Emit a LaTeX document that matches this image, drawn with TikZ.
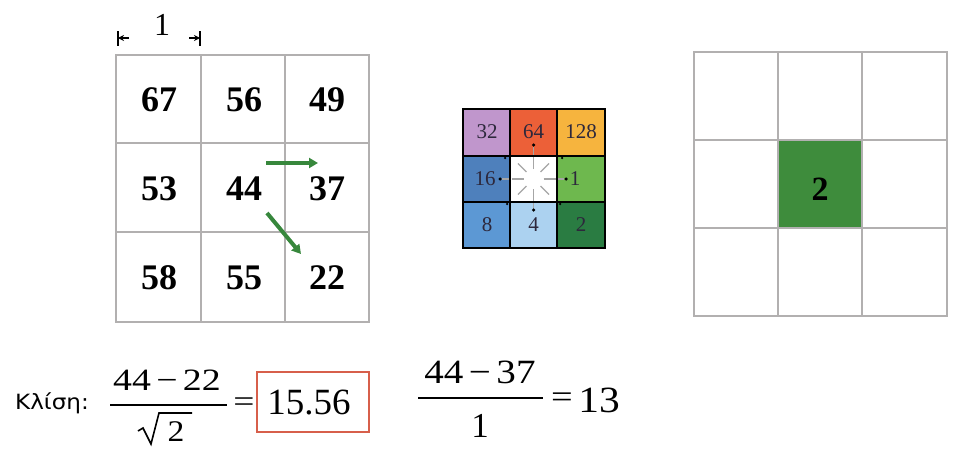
\documentclass[tikz,border=0pt]{standalone}
\usepackage{fontspec}
\usepackage{graphicx}
\setmainfont{Liberation Serif}
\newfontfamily\greekfont{DejaVu Sans}
\newfontfamily\eqfont{Liberation Serif}
\usetikzlibrary{arrows.meta,calc}
\definecolor{gridgray}{RGB}{178,176,176}
\definecolor{arrgreen}{RGB}{55,135,60}
\definecolor{cellgreen}{RGB}{62,140,60}
\definecolor{boxred}{RGB}{215,95,75}
\definecolor{cPurple}{RGB}{192,150,204}
\definecolor{cRed}{RGB}{236,96,56}
\definecolor{cOrange}{RGB}{246,180,62}
\definecolor{cBlue}{RGB}{78,128,188}
\definecolor{cLGreen}{RGB}{110,184,78}
\definecolor{cMBlue}{RGB}{92,152,212}
\definecolor{cLBlue}{RGB}{172,210,240}
\definecolor{cDGreen}{RGB}{42,124,66}
\definecolor{smalltext}{RGB}{45,40,60}
\newcommand{\mgap}{\hspace{0.14em}}
\tikzset{
  bignum/.style={inner sep=0pt,font=\fontsize{36}{40}\selectfont\bfseries},
  smallnum/.style={inner sep=0pt,text=smalltext,font=\eqfont\fontsize{21}{24}\selectfont},
  eqtext/.style={inner sep=0pt},
  greenarrow/.style={draw=arrgreen,line width=4pt,-{Triangle[length=9pt,width=10pt]}},
  dimarrow/.style={line width=1.3pt,-{Stealth[length=6pt,width=6pt]}},
  radial/.style={draw=gray!70,line width=1.2pt},
  dotmark/.style={circle,fill=black,inner sep=0pt,minimum size=3.5pt}
}
\begin{document}
\begin{tikzpicture}[x=1pt,y=-1pt]
\useasboundingbox (0,0) rectangle (967,450);
% ---------- left grid ----------
\draw[gridgray,line width=2.5pt] (116,55) rectangle (369,322);
\draw[gridgray,line width=2.5pt] (201,55) -- (201,322) (285,55) -- (285,322)
  (116,143) -- (369,143) (116,232) -- (369,232);
\node[bignum] (n67) at (159,100) {67};
\node[bignum] (n56) at (244,100) {56};
\node[bignum] (n49) at (327,100) {49};
\node[bignum] (n53) at (159,189) {53};
\node[bignum] (n44) at (244,189) {44};
\node[bignum] (n37) at (327,189) {37};
\node[bignum] (n58) at (159,278) {58};
\node[bignum] (n55) at (244,278) {55};
\node[bignum] (n22) at (327,278) {22};
% dimension
\node[inner sep=0pt,font=\eqfont\fontsize{32}{36}\selectfont] (dim) at (162,25) {1};
\coordinate (dl) at (118,38);
\coordinate (dr) at (200,38);
\draw[line width=1.3pt] (118,31) -- (118,46) (200,31) -- (200,46);
\draw[dimarrow] (129,38) -- (dl);
\draw[dimarrow] (189,38) -- (dr);
% green arrows
\coordinate (a1s) at (266,163);
\coordinate (a1e) at (318,163);
\coordinate (a2s) at (267,213);
\coordinate (a2e) at (301,254);
\draw[greenarrow] (a1s) -- (a1e);
\draw[greenarrow] (a2s) -- (a2e);
% ---------- small coded grid ----------
\fill[cPurple] (463,109) rectangle (510,156);
\fill[cRed] (510,109) rectangle (557,156);
\fill[cOrange] (557,109) rectangle (605,156);
\fill[cBlue] (463,156) rectangle (510,202);
\fill[white] (510,156) rectangle (557,202);
\fill[cLGreen] (557,156) rectangle (605,202);
\fill[cMBlue] (463,202) rectangle (510,248);
\fill[cLBlue] (510,202) rectangle (557,248);
\fill[cDGreen] (557,202) rectangle (605,248);
\coordinate (ctr) at (533.5,179);
\foreach \ang in {0,45,...,315}{
  \draw[radial] ($(ctr)+(\ang:10)$) -- ($(ctr)+(\ang:22)$);
}
\draw[radial] (ctr) ++(0,-24) -- ++(0,-8);
\draw[radial] (ctr) ++(0,24) -- ++(0,6);
\draw[radial] (ctr) ++(-24,0) -- ++(-8,0);
\draw[radial] (ctr) ++(24,0) -- ++(6,0);
\node[dotmark] (d1) at (533.5,145) {};
\node[dotmark] (d2) at (533.5,210) {};
\node[dotmark] (d3) at (500,179) {};
\node[dotmark] (d4) at (566,179) {};
\node[dotmark,minimum size=2.5pt] (d5) at (505,158) {};
\node[dotmark,minimum size=2.5pt] (d6) at (562,158) {};
\node[dotmark,minimum size=2.5pt] (d7) at (507,204) {};
\node[dotmark,minimum size=2.5pt] (d8) at (560,204) {};
\draw[black,line width=2pt] (463,109) rectangle (605,248);
\draw[black,line width=2pt] (510,109) -- (510,248) (557,109) -- (557,248)
  (463,156) -- (605,156) (463,202) -- (605,202);
\node[smallnum] (s32) at (487,132) {32};
\node[smallnum] (s64) at (533.5,132) {64};
\node[smallnum] (s128) at (581,132) {128};
\node[smallnum] (s16) at (485,179) {16};
\node[smallnum] (s1) at (575,179) {1};
\node[smallnum] (s8) at (487,225) {8};
\node[smallnum] (s4) at (533.5,225) {4};
\node[smallnum] (s2) at (581,225) {2};
% ---------- right grid ----------
\fill[cellgreen] (779,141) rectangle (861,227);
\draw[gridgray,line width=2pt] (694,52) rectangle (947,316);
\draw[gridgray,line width=2pt] (778,52) -- (778,316) (862,52) -- (862,316)
  (694,140) -- (947,140) (694,228) -- (947,228);
\node[inner sep=0pt,font=\fontsize{34}{38}\selectfont\bfseries] (r2) at (820,189) {2};
% ---------- equations ----------
\node[eqtext,font=\greekfont\fontsize{21}{24}\selectfont] (klisi) at (52,403) {\scalebox{1.1}[1]{Κλίση:}};
\node[eqtext,font=\eqfont\fontsize{31}{34}\selectfont] (num1) at (167,380) {\scalebox{1.22}[1]{44\mgap−\mgap22}};
\coordinate (b1l) at (110,405);
\coordinate (b1r) at (227,405);
\draw[line width=1.6pt] (b1l) -- (b1r);
\draw[line width=1.6pt,line join=miter] (138,431) -- (143,428) -- (151,444) -- (159,413) -- (192,413);
\node[eqtext,font=\eqfont\fontsize{30}{34}\selectfont] (den1) at (176,432) {\scalebox{1.12}[1]{2}};
\node[eqtext,font=\eqfont\fontsize{30}{34}\selectfont] (eq1) at (244,405) {\scalebox{1.25}[1]{=}};
\node[draw=boxred,line width=2pt,minimum width=112pt,minimum height=60pt,inner sep=0pt] (res) at (313,402) {};
\node[eqtext,font=\eqfont\fontsize{37}{40}\selectfont] (val) at (309,403) {15.56};
\node[eqtext,font=\eqfont\fontsize{34}{36}\selectfont] (num2) at (480,372) {\scalebox{1.15}[1]{44\mgap−\mgap37}};
\coordinate (b2l) at (418,398);
\coordinate (b2r) at (543,398);
\draw[line width=1.6pt] (b2l) -- (b2r);
\node[eqtext,font=\eqfont\fontsize{35}{38}\selectfont] (den2) at (480,426) {1};
\node[eqtext,font=\eqfont\fontsize{32}{36}\selectfont] (eq2) at (562,400) {\scalebox{1.2}[1]{=}};
\node[eqtext,font=\eqfont\fontsize{37}{40}\selectfont] (r13) at (599,400) {\scalebox{1.12}[1]{13}};
\end{tikzpicture}
\end{document}
